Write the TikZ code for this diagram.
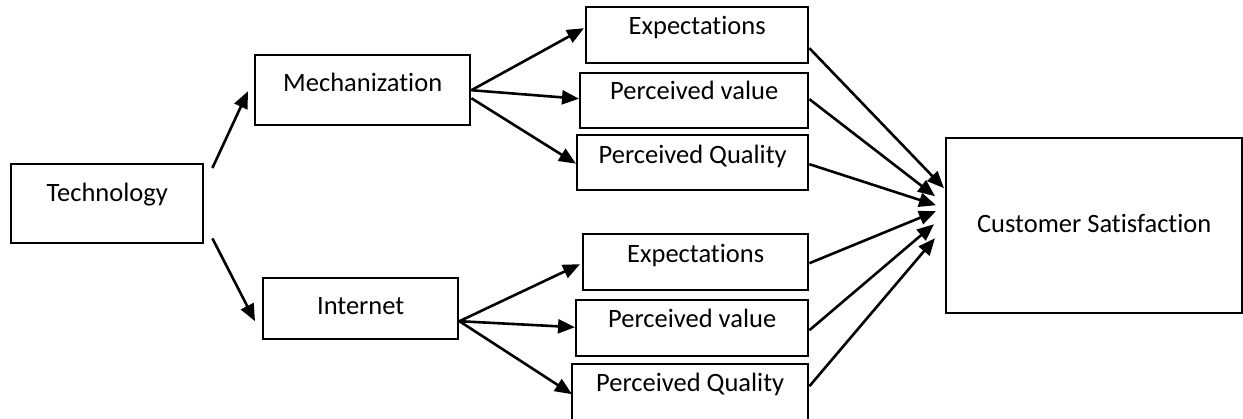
\documentclass[tikz,border=0pt]{standalone}
\usepackage{fontspec}
\setmainfont{Carlito}[Ligatures=NoCommon]
\usetikzlibrary{calc,arrows.meta}

\begin{document}
\begin{tikzpicture}[x=1bp,y=-1bp,
        box/.style={draw,line width=2.4bp,inner sep=0pt,anchor=north west,
            font=\fontsize{26.5bp}{30bp}\selectfont},
        arr/.style={line width=2.6bp,-{Triangle[length=17bp,width=14bp]}}]
        \useasboundingbox (0,0) rectangle (1243,418);
        \node[box,minimum width=192bp,text height=37bp,text depth=42bp] (tech) at (10,163) {Technology};
        \node[box,minimum width=215bp,text height=36bp,text depth=34bp] (mech) at (254,54) {Mechanization};
        \node[box,minimum width=195bp,text height=36bp,text depth=25bp] (inet) at (262,277) {Internet};
        \node[box,minimum width=222bp,text height=27bp,text depth=29bp] (expa) at (585,6) {Expectations};
        \node[box,minimum width=228bp,text height=26bp,text depth=29bp] (vala) at (579,72) {Perceived value};
        \node[box,minimum width=231bp,text height=28bp,text depth=27bp] (quala) at (576,134) {Perceived Quality};
        \node[box,minimum width=225bp,text height=28bp,text depth=28bp] (expb) at (582,233) {Expectations};
        \node[box,minimum width=232bp,text height=27bp,text depth=29bp] (valb) at (575,299) {Perceived value};
        \node[box,minimum width=236bp,text height=27bp,text depth=31bp] (qualb) at (571,363) {Perceived Quality};
        \node[box,minimum width=296bp,text height=94bp,text depth=81bp] (cust) at (945,137) {Customer Satisfaction};
        % technology branches
        \coordinate (t1) at ($(tech.north east)+(8,5)$);
        \coordinate (t2) at ($(tech.south east)+(8,-6)$);
        \coordinate (m1) at ($(mech.west)+(-6,1)$);
        \coordinate (i1) at ($(inet.west)+(-7,12.5)$);
        \draw[arr] (t1) -- (m1);
        \draw[arr] (t2) -- (i1);
        % mechanization
        \coordinate (m2) at ($(mech.east)+(0,8)$);
        \coordinate (ea1) at ($(expa.west)+(-1,-7)$);
        \coordinate (va1) at ($(vala.west)+(0,-2)$);
        \coordinate (qa1) at ($(quala.west)+(0,1)$);
        \draw[arr] (mech.east) -- (ea1);
        \draw[arr] (mech.east) -- (va1);
        \draw[arr] (m2) -- (qa1);
        % internet
        \coordinate (i2) at ($(inet.east)+(0,12.5)$);
        \coordinate (eb1) at ($(expb.west)+(-2,2)$);
        \coordinate (vb1) at ($(valb.west)+(0,-1)$);
        \coordinate (qb1) at ($(qualb.west)+(1,1)$);
        \draw[arr] (i2) -- (eb1);
        \draw[arr] (i2) -- (vb1);
        \draw[arr] (i2) -- (qb1);
        % into satisfaction
        \coordinate (ea2) at ($(expa.east)+(0,13)$);
        \coordinate (va2) at ($(vala.east)+(0,-1.5)$);
        \coordinate (qa2) at ($(quala.east)+(0,1.5)$);
        \coordinate (eb2) at ($(expb.east)+(0,1)$);
        \coordinate (vb2) at ($(valb.east)+(0,2)$);
        \coordinate (qb2) at ($(qualb.east)+(0,-7)$);
        \coordinate (c1) at ($(cust.west)+(-1,-37.5)$);
        \coordinate (c2) at ($(cust.west)+(-10,-29.5)$);
        \coordinate (c3) at ($(cust.west)+(-9,-20.5)$);
        \coordinate (c4) at ($(cust.west)+(-9,-14.5)$);
        \coordinate (c5) at ($(cust.west)+(-11,-1.5)$);
        \coordinate (c6) at ($(cust.west)+(-10,12.5)$);
        \draw[arr] (ea2) -- (c1);
        \draw[arr] (va2) -- (c2);
        \draw[arr] (qa2) -- (c3);
        \draw[arr] (eb2) -- (c4);
        \draw[arr] (vb2) -- (c5);
        \draw[arr] (qb2) -- (c6);
\end{tikzpicture}
\end{document}
